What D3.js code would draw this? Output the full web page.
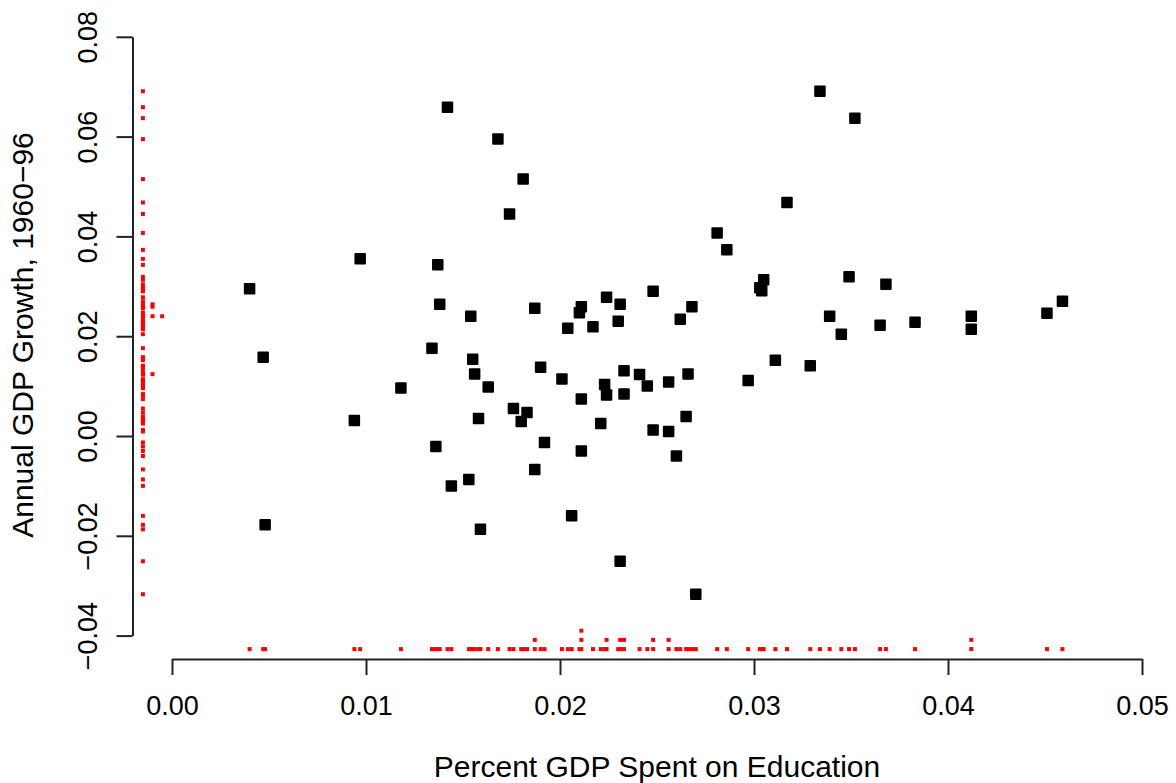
<!DOCTYPE html>
<html>
<head>
<meta charset="utf-8">
<script src="https://cdn.jsdelivr.net/npm/d3@7"></script>
<style>
  body { margin: 0; background: #fff; }
  svg { display: block; font-family: "Liberation Sans", Helvetica, Arial, sans-serif; }
  .axis path, .axis line { stroke: #222; stroke-width: 2px; }
  .axis text { fill: #000; font-size: 27px; }
  .title { font-size: 30px; fill: #000; }
</style>
</head>
<body>
<svg id="chart" width="1176" height="783"></svg>
<script>
// ── Data ─────────────────────────────────────────────────────────────────────
const education = [
  0.0040, 0.0047, 0.0048, 0.0097, 0.0094, 0.0118, 0.0142, 0.0137, 0.0138, 0.0134,
  0.0136, 0.0144, 0.0154, 0.0155, 0.0156, 0.0158, 0.0153, 0.0159, 0.0168, 0.0163,
  0.0174, 0.0181, 0.0176, 0.0180, 0.0183, 0.0187, 0.0190, 0.0192, 0.0187, 0.0201,
  0.0204, 0.0206, 0.0210, 0.0211, 0.0211, 0.0211, 0.0217, 0.0224, 0.0223, 0.0224,
  0.0221, 0.0231, 0.0230, 0.0233, 0.0233, 0.0231, 0.0241, 0.0245, 0.0248, 0.0248,
  0.0256, 0.0256, 0.0260, 0.0262, 0.0265, 0.0266, 0.0268, 0.0270, 0.0281, 0.0286,
  0.0297, 0.0303, 0.0304, 0.0305, 0.0311, 0.0317, 0.0329, 0.0334, 0.0352, 0.0349,
  0.0339, 0.0345, 0.0368, 0.0365, 0.0383, 0.0412, 0.0412, 0.0451, 0.0459
];
const growth = [
  0.0295, 0.0158, -0.0178, 0.0355, 0.0031, 0.0096, 0.0659, 0.0343, 0.0264, 0.0176,
  -0.0021, -0.0100, 0.0240, 0.0154, 0.0124, 0.0035, -0.0087, -0.0187, 0.0595, 0.0098,
  0.0445, 0.0515, 0.0055, 0.0029, 0.0047, 0.0256, 0.0138, -0.0013, -0.0067, 0.0114,
  0.0216, -0.0160, 0.0247, 0.0259, 0.0074, -0.0030, 0.0219, 0.0278, 0.0103, 0.0082,
  0.0025, 0.0264, 0.0230, 0.0131, 0.0084, -0.0251, 0.0123, 0.0100, 0.0290, 0.0012,
  0.0108, 0.0009, -0.0040, 0.0234, 0.0039, 0.0124, 0.0259, -0.0317, 0.0407, 0.0373,
  0.0111, 0.0297, 0.0291, 0.0313, 0.0152, 0.0468, 0.0141, 0.0691, 0.0637, 0.0319,
  0.0240, 0.0204, 0.0304, 0.0222, 0.0228, 0.0240, 0.0214, 0.0246, 0.0270
];
const xTicks = [0, 0.01, 0.02, 0.03, 0.04, 0.05];
const xTickLabels = ["0.00", "0.01", "0.02", "0.03", "0.04", "0.05"];
const yTicks = [-0.04, -0.02, 0, 0.02, 0.04, 0.06, 0.08];
const yTickLabels = ["\u22120.04", "\u22120.02", "0.00", "0.02", "0.04", "0.06", "0.08"];

// ── Setup ────────────────────────────────────────────────────────────────────
const svg = d3.select('#chart');
const x = d3.scaleLinear().domain([0, 0.05]).range([172, 1142]);
const y = d3.scaleLinear().domain([-0.04, 0.08]).range([635.6, 36.8]);
const plotLeft = 132.5, plotBottom = 659;

// ── Axes ─────────────────────────────────────────────────────────────────────
svg.append('g')
  .attr('class', 'axis')
  .attr('transform', `translate(0,${plotBottom})`)
  .call(d3.axisBottom(x)
    .tickValues(xTicks)
    .tickFormat((d, i) => xTickLabels[i])
    .tickSize(16)
    .tickSizeOuter(0)
    .tickPadding(21));

const yAxisG = svg.append('g')
  .attr('class', 'axis')
  .attr('transform', `translate(${plotLeft},0)`)
  .call(d3.axisLeft(y)
    .tickValues(yTicks)
    .tickFormat((d, i) => yTickLabels[i])
    .tickSize(16)
    .tickSizeOuter(0));

yAxisG.selectAll('.tick text')
  .attr('transform', 'rotate(-90)')
  .attr('x', 0)
  .attr('y', -36)
  .attr('dy', 0)
  .attr('text-anchor', 'middle');

// ── Points ───────────────────────────────────────────────────────────────────
const pts = education.map((e, i) => ({ e, g: growth[i] }));
const SQ = 11.5;
svg.append('g').selectAll('rect')
  .data(pts)
  .join('rect')
  .attr('x', d => x(d.e) - SQ / 2)
  .attr('y', d => y(d.g) - SQ / 2)
  .attr('width', SQ).attr('height', SQ)
  .attr('rx', 1)
  .attr('fill', '#000');

// ── Stacked strip charts along the margins ──────────────────────────────────
function stack(values) {
  const seen = new Map();
  return values.map(v => {
    const k = v.toFixed(4);
    const n = seen.get(k) || 0;
    seen.set(k, n + 1);
    return { v, n };
  });
}
const RS = 4;
const xBase = y(-0.0427), xStep = 9.2;
const yBase = x(-0.0015), yStep = 9.6;

svg.append('g').selectAll('rect')
  .data(stack(education))
  .join('rect')
  .attr('x', d => x(d.v) - RS / 2)
  .attr('y', d => xBase - d.n * xStep - RS / 2)
  .attr('width', RS).attr('height', RS)
  .attr('fill', '#ff0000');

svg.append('g').selectAll('rect')
  .data(stack(growth))
  .join('rect')
  .attr('x', d => yBase + d.n * yStep - RS / 2)
  .attr('y', d => y(d.v) - RS / 2)
  .attr('width', RS).attr('height', RS)
  .attr('fill', '#ff0000');

// ── Titles ───────────────────────────────────────────────────────────────────
svg.append('text')
  .attr('class', 'title')
  .attr('x', 657)
  .attr('y', 777)
  .attr('text-anchor', 'middle')
  .text('Percent GDP Spent on Education');

svg.append('text')
  .attr('class', 'title')
  .attr('transform', 'translate(33,335) rotate(-90)')
  .attr('text-anchor', 'middle')
  .text('Annual GDP Growth, 1960\u221296');
</script>
</body>
</html>
